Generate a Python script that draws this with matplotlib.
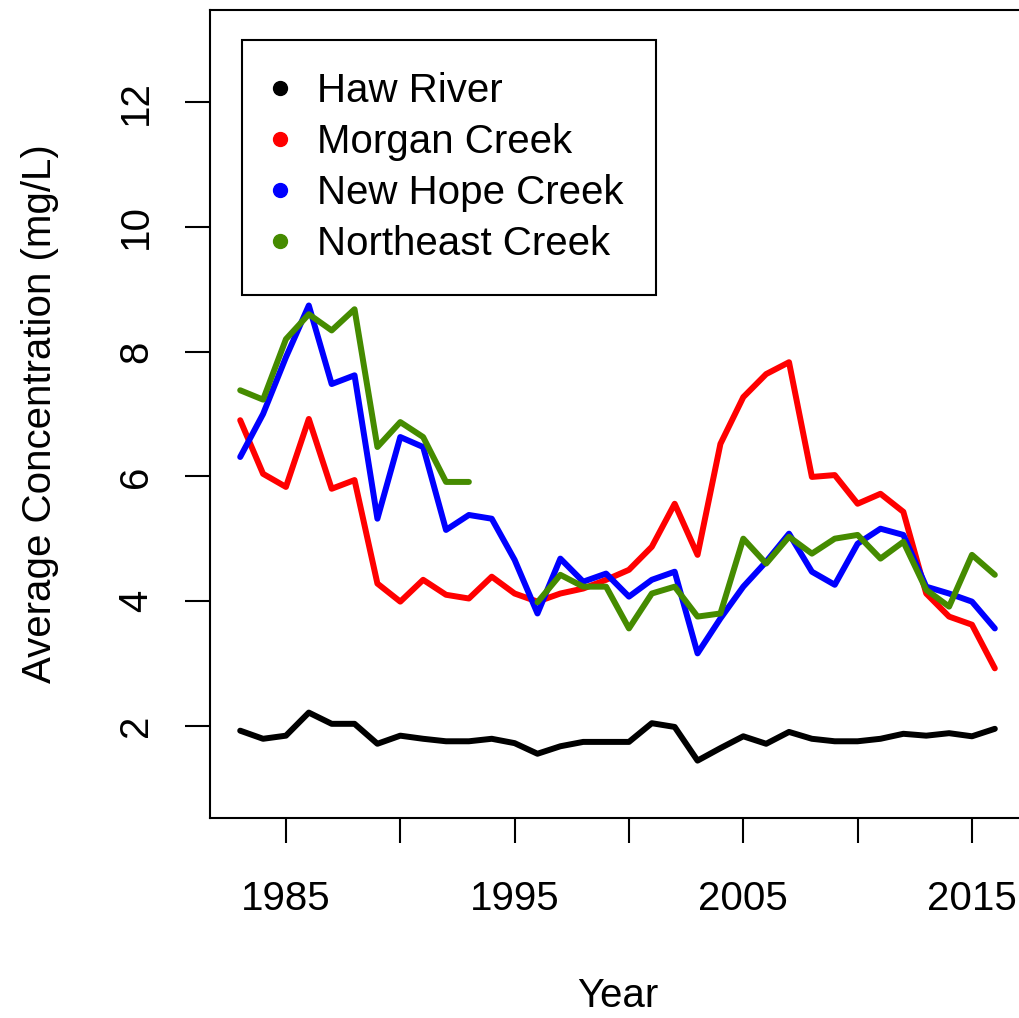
import numpy as np
import matplotlib
matplotlib.use("Agg")
import matplotlib.pyplot as plt
from matplotlib.lines import Line2D

plt.rcParams['font.family'] = ['Liberation Sans', 'DejaVu Sans']

years = list(range(1983, 2017))

haw = [1.92, 1.79, 1.84, 2.21, 2.03, 2.03, 1.71, 1.84, 1.79, 1.75,
       1.75, 1.79, 1.72, 1.55, 1.67, 1.74, 1.74, 1.74, 2.04, 1.98,
       1.44, 1.64, 1.83, 1.71, 1.90, 1.79, 1.75, 1.75, 1.79, 1.87,
       1.84, 1.88, 1.83, 1.95]

morgan = [6.90, 6.04, 5.83, 6.92, 5.80, 5.94, 4.28, 3.99, 4.34, 4.10,
          4.04, 4.39, 4.12, 3.99, 4.12, 4.20, 4.34, 4.50, 4.87, 5.56,
          4.74, 6.52, 7.27, 7.64, 7.83, 5.99, 6.02, 5.56, 5.72, 5.43,
          4.12, 3.75, 3.62, 2.92]

newhope = [6.31, 7.00, 7.91, 8.74, 7.48, 7.62, 5.32, 6.63, 6.47, 5.14,
           5.38, 5.32, 4.66, 3.80, 4.68, 4.31, 4.44, 4.07, 4.34, 4.47,
           3.16, 3.72, 4.23, 4.63, 5.08, 4.47, 4.26, 4.92, 5.16, 5.06,
           4.23, 4.12, 3.99, 3.56]

nan = float('nan')
northeast = [7.38, 7.23, 8.20, 8.60, 8.34, 8.68, 6.47, 6.87, 6.63, 5.91,
             5.91, nan, nan, 3.98, 4.42, 4.23, 4.23, 3.56, 4.12, 4.23,
             3.75, 3.80, 5.00, 4.60, 5.03, 4.76, 5.00, 5.06, 4.68, 4.95,
             4.18, 3.91, 4.74, 4.42]

names = ["Haw River", "Morgan Creek", "New Hope Creek", "Northeast Creek"]
colors = ["black", "red", "blue", "#458B00"]

fig = plt.figure(figsize=(10.19, 10.18), dpi=100)
ax = fig.add_axes([0.2061, 0.1965, 0.7998, 0.7937])

for vals, c in zip([haw, morgan, newhope, northeast], colors):
    ax.plot(years, vals, color=c, lw=4.3, solid_capstyle='round',
            solid_joinstyle='round')

ax.set_xlim(1981.68, 2017.32)
ax.set_ylim(0.52, 13.48)
ax.set_xticks([1985, 1990, 1995, 2000, 2005, 2010, 2015])
ax.set_xticklabels(["1985", "", "1995", "", "2005", "", "2015"])
ax.set_yticks([2, 4, 6, 8, 10, 12])
ax.set_yticklabels(["2", "4", "6", "8", "10", "12"], rotation=90, va='center')

for s in ax.spines.values():
    s.set_linewidth(1.5)
ax.tick_params(axis='both', length=18, width=1.5, labelsize=29)
ax.tick_params(axis='x', pad=27)
ax.tick_params(axis='y', pad=21.5)

ax.set_xlabel("Year", fontsize=29, labelpad=42)
ax.set_ylabel("Average Concentration (mg/L)", fontsize=29, labelpad=42)

handles = [Line2D([], [], ls='none', marker='o', color=c, markersize=10) for c in colors]
leg = ax.legend(handles, names, loc='upper left', bbox_to_anchor=(0.039, 0.9625),
                borderaxespad=0, fontsize=29, fancybox=False, framealpha=1,
                edgecolor='black', handlelength=0.3, handletextpad=0.77,
                labelspacing=0.32, borderpad=0.8)
leg.get_frame().set_linewidth(1.5)

fig.savefig("out.png", dpi=100)
